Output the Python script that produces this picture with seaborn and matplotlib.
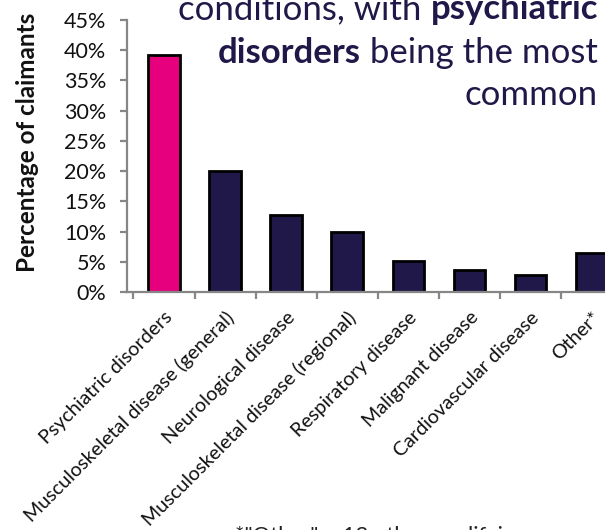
import numpy as np
import pandas as pd
import matplotlib
matplotlib.use("Agg")
import matplotlib.pyplot as plt
import seaborn as sns

categories = ["Psychiatric disorders", "Musculoskeletal disease (general)",
              "Neurological disease", "Musculoskeletal disease (regional)",
              "Respiratory disease", "Malignant disease",
              "Cardiovascular disease", "Other*"]
values = [39.2, 20.0, 12.8, 9.9, 5.2, 3.7, 2.8, 6.4]
ytick_vals = [0, 5, 10, 15, 20, 25, 30, 35, 40, 45]

PINK = "#E6007E"
NAVY = "#201848"
GREY = "#868686"

sns.set_theme(style="white")
plt.rcParams["font.family"] = ["Lato", "DejaVu Sans"]

df = pd.DataFrame({"cat": categories, "val": values})
colors = [PINK] + [NAVY] * (len(categories) - 1)

fig = plt.figure(figsize=(6.05, 5.3), dpi=100)
W, H = 605, 530
# axes placed in pixel terms: spine at x=127, 0% at y=292, 45% at y=20
left_px, right_px = 127, 640
ax = fig.add_axes([left_px / W, (H - 292) / H, (right_px - left_px) / W, (292 - 20) / H])

sns.barplot(data=df, x="cat", y="val", hue="cat", palette=colors, legend=False,
            saturation=1, width=0.52, edgecolor="black", linewidth=2.0, ax=ax)

step = 61.1
ax.set_xlim((left_px - 164) / step, (right_px - 164) / step)
ax.set_ylim(0, 45)
ax.set_yticks(ytick_vals)
ax.set_yticklabels([f"{v}%" for v in ytick_vals])
ax.set_xticks(range(len(categories)))
ax.set_xticklabels(categories, rotation=45, ha="right", rotation_mode="anchor")
ax.set_xticks(np.arange(-0.5, len(categories), 1.0), minor=True)

for s in ["top", "right"]:
    ax.spines[s].set_visible(False)
for s in ["left", "bottom"]:
    ax.spines[s].set_color(GREY)
    ax.spines[s].set_linewidth(1.6)

ax.tick_params(axis="y", which="major", direction="out", length=5, width=1.6,
               color=GREY, labelsize=15.5, labelcolor="#111111", pad=10, left=True)
ax.tick_params(axis="x", which="major", length=0, labelsize=14.2,
               labelcolor="#111111", pad=12)
ax.tick_params(axis="x", which="minor", direction="out", length=5, width=1.6,
               color=GREY, bottom=True)
ax.set_xlabel("")
ax.set_ylabel("Percentage of claimants", fontsize=17.5, fontweight="bold",
              color="#111111")
ax.yaxis.set_label_coords(39 / W, 1 - 142 / H, transform=fig.transFigure)

# headline text, right-aligned, mixed weight
fig.canvas.draw()
renderer = fig.canvas.get_renderer()
title_lines = [
    [("conditions, with ", "normal"), ("psychiatric", "bold")],
    [("disorders", "bold"), (" being the most", "normal")],
    [("common", "normal")],
]
baselines = [19, 63, 105]
x_right = 598
for parts, yb in zip(title_lines, baselines):
    x = x_right
    for txt, wt in reversed(parts):
        t = fig.text(x / W, 1 - yb / H, txt, fontsize=25, fontweight=wt,
                     color=NAVY, ha="right", va="baseline")
        bb = t.get_window_extent(renderer)
        x -= bb.width

fig.text(235 / W, 1 - 542 / H, "*\"Other\" \u2013 13 other qualifying", fontsize=15.9,
         color="#222222", ha="left", va="baseline")

fig.savefig("out.png", dpi=100)
